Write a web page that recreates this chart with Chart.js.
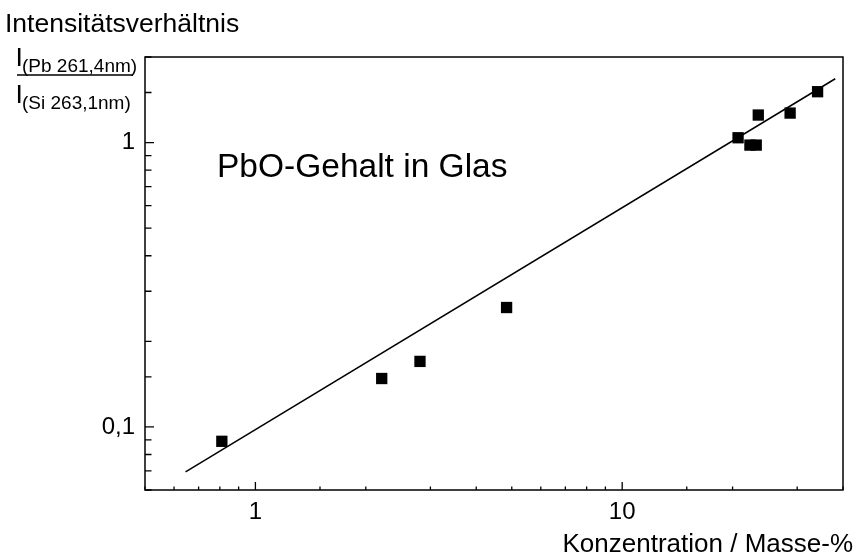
<!DOCTYPE html>
<html>
<head>
<meta charset="utf-8">
<script src="https://cdn.jsdelivr.net/npm/chart.js@4/dist/chart.umd.min.js"></script>
<style>
html, body { margin: 0; padding: 0; background: #fff; }
#wrap { width: 857px; height: 554px; }
</style>
</head>
<body>
<div id="wrap"><canvas id="pbo-chart" width="857" height="554"></canvas></div>
<script>
// Messwerte: Konzentration (Masse-%) und Intensitaetsverhaeltnis
var konzentration = [0.81, 2.21, 2.81, 4.84, 20.7, 22.3, 23.2, 23.5, 28.7, 34.1];
var verhaeltnis = [0.089, 0.148, 0.170, 0.263, 1.04, 0.98, 0.98, 1.25, 1.27, 1.51];

// Regressionsgerade (Endpunkte)
var fitX = [0.645, 38.1];
var fitY = [0.0695, 1.677];

var xRange = [0.5, 40];
var yRange = [0.06, 2];
var xLabels = { 1: '1', 10: '10' };
var yLabels = { 0.1: '0,1', 1: '1' };

var FONT = '"Liberation Sans", Arial, Helvetica, sans-serif';

function labelFor(map, v) {
  for (var k in map) {
    if (Math.abs(v - Number(k)) < 1e-9) return map[k];
  }
  return '';
}
function isDecade(v) {
  var l = Math.log10(v);
  return Math.abs(l - Math.round(l)) < 1e-6;
}

// Rahmen, nach innen zeigende Ticks, Achsentitel und Textfeld
var framePlugin = {
  id: 'frame',
  afterDraw: function(chart) {
    var c = chart.ctx, a = chart.chartArea;
    var xs = chart.scales.x, ys = chart.scales.y;
    c.save();
    c.strokeStyle = '#000';
    c.lineWidth = 1.5;
    c.strokeRect(a.left, a.top, a.right - a.left, a.bottom - a.top);

    c.lineWidth = 1.3;
    c.beginPath();
    xs.ticks.forEach(function(t) {
      var px = xs.getPixelForValue(t.value);
      var len = isDecade(t.value) ? 8 : 3.5;
      c.moveTo(px, a.bottom);
      c.lineTo(px, a.bottom - len);
    });
    ys.ticks.forEach(function(t) {
      var py = ys.getPixelForValue(t.value);
      var len = isDecade(t.value) ? 9 : 6.5;
      c.moveTo(a.left, py);
      c.lineTo(a.left + len, py);
    });
    c.stroke();

    c.fillStyle = '#000';
    c.textBaseline = 'alphabetic';
    c.textAlign = 'left';
    c.font = '26.5px ' + FONT;
    c.fillText('Intensitätsverhältnis', 5, 32);

    c.font = '26.5px ' + FONT;
    c.fillText('I', 15.5, 66);
    c.fillText('I', 15.5, 103);
    c.font = '19px ' + FONT;
    c.fillText('(Pb 261,4nm)', 22, 71.5);
    c.fillText('(Si 263,1nm)', 22, 108.5);
    c.lineWidth = 1.5;
    c.beginPath();
    c.moveTo(17, 75);
    c.lineTo(133, 75);
    c.stroke();

    c.font = '33.5px ' + FONT;
    c.fillText('PbO-Gehalt in Glas', 217, 177);

    c.textAlign = 'right';
    c.font = '26px ' + FONT;
    c.fillText('Konzentration / Masse-%', 853, 552);
    c.restore();
  }
};

var points = konzentration.map(function(x, i) { return { x: x, y: verhaeltnis[i] }; });
var fitLine = fitX.map(function(x, i) { return { x: x, y: fitY[i] }; });

var ctx = document.getElementById('pbo-chart').getContext('2d');
var chart = new Chart(ctx, {
  type: 'scatter',
  data: {
    datasets: [{
      label: 'Messwerte',
      data: points,
      pointStyle: 'rect',
      pointRadius: 8,
      pointHoverRadius: 8,
      backgroundColor: '#000',
      borderColor: '#000',
      borderWidth: 0
    }, {
      label: 'Ausgleichsgerade',
      type: 'line',
      data: fitLine,
      showLine: true,
      fill: false,
      pointRadius: 0,
      borderColor: '#000',
      borderWidth: 1.5
    }]
  },
  options: {
    responsive: false,
    animation: false,
    events: [],
    layout: { padding: { left: 0, right: 14, top: 57, bottom: 0 } },
    plugins: {
      legend: { display: false },
      tooltip: { enabled: false }
    },
    scales: {
      x: {
        type: 'logarithmic',
        min: xRange[0],
        max: xRange[1],
        border: { display: false },
        grid: { drawOnChartArea: false, drawTicks: false },
        ticks: {
          autoSkip: false,
          maxRotation: 0,
          padding: 8,
          color: '#000',
          font: { family: FONT, size: 24 },
          callback: function(v) { return labelFor(xLabels, v); }
        },
        afterFit: function(s) { s.height = 64; }
      },
      y: {
        type: 'logarithmic',
        min: yRange[0],
        max: yRange[1],
        border: { display: false },
        grid: { drawOnChartArea: false, drawTicks: false },
        ticks: {
          autoSkip: false,
          padding: 10,
          color: '#000',
          font: { family: FONT, size: 24 },
          callback: function(v) { return labelFor(yLabels, v); }
        },
        afterFit: function(s) { s.width = 145; }
      }
    }
  },
  plugins: [framePlugin]
});
</script>
</body>
</html>
